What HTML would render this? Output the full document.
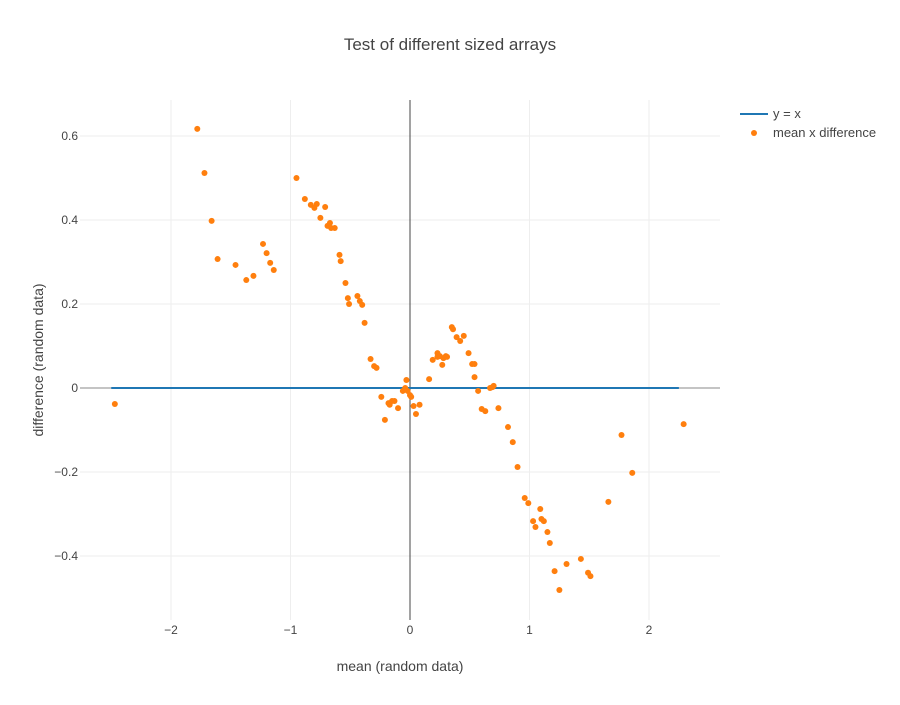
<!DOCTYPE html>
<html><head><meta charset="utf-8"><style>
body{margin:0;background:#fff;}
svg text{font-family:"Liberation Sans",sans-serif;fill:#444;}
</style></head><body>
<svg id="chart" width="900" height="700" xmlns="http://www.w3.org/2000/svg"></svg>
<script>
const xTicks=[-2,-1,0,1,2];
const yTicks=[-0.4,-0.2,0,0.2,0.4,0.6];
const yTickLabels=["−0.4","−0.2","0","0.2","0.4","0.6"];
const xTickLabels=["−2","−1","0","1","2"];
const lineX=[-2.5,2.25];
const lineY=[0,0];
const ptX=[-2.47,-1.78,-1.72,-1.66,-1.61,-1.46,-1.37,-1.31,-1.23,-1.20,-1.17,-1.14,-0.95,-0.88,-0.83,-0.80,-0.78,-0.75,-0.71,-0.69,-0.67,-0.66,-0.63,-0.59,-0.58,-0.54,-0.52,-0.51,-0.44,-0.42,-0.40,-0.38,-0.33,-0.30,-0.28,-0.24,-0.21,-0.18,-0.17,-0.15,-0.13,-0.10,-0.06,-0.04,-0.03,-0.02,0,0.01,0.03,0.05,0.08,0.16,0.19,0.23,0.23,0.25,0.27,0.28,0.30,0.31,0.35,0.36,0.39,0.42,0.45,0.49,0.52,0.54,0.54,0.57,0.60,0.63,0.67,0.69,0.70,0.74,0.82,0.86,0.90,0.96,0.99,1.03,1.05,1.09,1.10,1.12,1.15,1.17,1.21,1.25,1.31,1.43,1.49,1.51,1.66,1.77,1.86,2.29];
const ptY=[-0.038,0.617,0.512,0.398,0.307,0.293,0.257,0.267,0.343,0.321,0.298,0.281,0.500,0.450,0.436,0.429,0.438,0.405,0.431,0.386,0.393,0.381,0.381,0.317,0.302,0.250,0.214,0.200,0.219,0.207,0.198,0.155,0.069,0.052,0.048,-0.021,-0.076,-0.036,-0.040,-0.031,-0.031,-0.048,-0.007,0,0.019,-0.007,-0.017,-0.021,-0.043,-0.062,-0.040,0.021,0.067,0.074,0.083,0.076,0.055,0.071,0.076,0.074,0.145,0.140,0.121,0.112,0.124,0.083,0.057,0.057,0.026,-0.007,-0.050,-0.055,0,0.002,0.005,-0.048,-0.093,-0.129,-0.188,-0.262,-0.274,-0.317,-0.331,-0.288,-0.312,-0.317,-0.343,-0.369,-0.436,-0.481,-0.419,-0.407,-0.440,-0.448,-0.271,-0.112,-0.202,-0.086];

const NS="http://www.w3.org/2000/svg";
const svg=document.getElementById('chart');
const L=80,R=720,T=100,B=620;
const xs=v=>410+v*119.5;
const ys=v=>388-v*420;
function mk(tag,attrs,txt){const e=document.createElementNS(NS,tag);for(const k in attrs)e.setAttribute(k,attrs[k]);if(txt!=null)e.textContent=txt;svg.appendChild(e);return e;}

xTicks.forEach((t,i)=>{
  if(t!==0){const g=mk('line',{x1:xs(t),x2:xs(t),y1:T,y2:B,stroke:'#eee','stroke-width':1});
  
  }
  const tx=mk('text',{x:xs(t),y:634,'text-anchor':'middle','font-size':12},xTickLabels[i]);
  
  
});
yTicks.forEach((t,i)=>{
  if(t!==0){const g=mk('line',{x1:L,x2:R,y1:ys(t),y2:ys(t),stroke:'#eee','stroke-width':1});
  
  }
  const tx=mk('text',{x:L-2,y:ys(t)+4,'text-anchor':'end','font-size':12},yTickLabels[i]);
  
  
});
const zx=mk('line',{x1:xs(0),x2:xs(0),y1:T,y2:B,stroke:'#444','stroke-width':1});


const zy=mk('line',{x1:L,x2:R,y1:ys(0),y2:ys(0),stroke:'#888','stroke-width':1});



const ln=mk('line',{x1:xs(lineX[0]),x2:xs(lineX[1]),y1:ys(lineY[0]),y2:ys(lineY[1]),stroke:'#1f77b4','stroke-width':2});



ptX.forEach((x,i)=>{
  const c=mk('circle',{cx:xs(x),cy:ys(ptY[i]),r:3,fill:'#ff7f0e'});
  
  
});

const title=mk('text',{x:450,y:50,'text-anchor':'middle','font-size':17},'Test of different sized arrays');


const xt=mk('text',{x:400,y:671,'text-anchor':'middle','font-size':14},'mean (random data)');


const yt=mk('text',{x:0,y:0,'text-anchor':'middle','font-size':14,transform:'translate(43,360) rotate(-90)'},'difference (random data)');



const l1=mk('line',{x1:740,x2:768,y1:114,y2:114,stroke:'#1f77b4','stroke-width':2});


const t1=mk('text',{x:773,y:118,'font-size':13},'y = x');


const c1=mk('circle',{cx:754,cy:133,r:3,fill:'#ff7f0e'});


const t2=mk('text',{x:773,y:137,'font-size':13},'mean x difference');


</script>
</body></html>
